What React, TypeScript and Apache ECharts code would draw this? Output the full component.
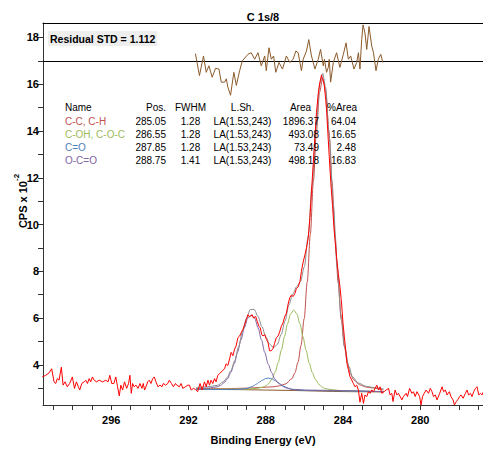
import React, { useEffect, useRef } from "react";
import * as echarts from "echarts";

const FONT = "'Liberation Sans', Arial, Helvetica, sans-serif";

const TITLE = "C 1s/8";
const RESIDUAL_LABEL = "Residual STD = 1.112";
const X_NAME = "Binding Energy (eV)";
const RESIDUAL_ZERO = 17;

const X_TICKS = [277, 278, 279, 280, 281, 282, 283, 284, 285, 286, 287, 288, 289, 290, 291, 292, 293, 294, 295, 296, 297, 298, 299];
const X_LABELS = [280, 284, 288, 292, 296];
const Y_TICKS = [3, 4, 5, 6, 7, 8, 9, 10, 11, 12, 13, 14, 15, 16, 17, 18];
const Y_LABELS = [4, 6, 8, 10, 12, 14, 16, 18];

// table
const TABLE_HEAD = ["Name", "Pos.", "FWHM", "L.Sh.", "Area", "%Area"];
const COMP_NAMES = ["C-C, C-H", "C-OH, C-O-C", "C=O", "O-C=O"];
const COMP_POS = ["285.05", "286.55", "287.85", "288.75"];
const COMP_FWHM = ["1.28", "1.28", "1.28", "1.41"];
const COMP_LSH = ["LA(1.53,243)", "LA(1.53,243)", "LA(1.53,243)", "LA(1.53,243)"];
const COMP_AREA = ["1896.37", "493.08", "73.49", "498.18"];
const COMP_PCT = ["64.04", "16.65", "2.48", "16.83"];
const COMP_COLORS = ["#c0504d", "#9bbb59", "#4f81bd", "#8064a2"];

// raw spectrum [binding energy, CPS x 10^-2]
const RAW: [number, number][] = [
  [299.57, 3.48], [299.39, 3.55], [299.22, 3.65], [299.08, 3.83], [298.96, 3.27], [298.87, 3.2], [298.79, 3.41], [298.7, 3.34], [298.58, 3.9], [298.49, 3.13],
  [298.39, 3.27], [298.27, 3.06], [298.15, 3.2], [298.01, 3.48], [297.9, 2.99], [297.8, 3.27], [297.7, 3.06], [297.63, 2.92], [297.52, 3.2], [297.4, 3.27],
  [297.32, 3.34], [297.23, 3.2], [297.14, 3.41], [297.06, 3.27], [296.97, 3.48], [296.88, 3.34], [296.76, 3.27], [296.62, 3.34], [296.45, 3.27], [296.28, 3.34],
  [296.16, 3.27], [296.07, 3.55], [295.97, 3.2], [295.86, 3.2], [295.76, 3.48], [295.67, 3.06], [295.58, 2.67], [295.5, 3.13], [295.41, 2.92], [295.31, 3.27],
  [295.2, 2.99], [295.1, 3.2], [295.03, 3.55], [294.96, 2.78], [294.89, 3.2], [294.81, 3.06], [294.72, 3.13], [294.61, 2.99], [294.51, 3.2], [294.41, 2.99],
  [294.34, 3.2], [294.27, 2.92], [294.2, 3.06], [294.11, 3.27], [294.03, 3.34], [293.94, 3.2], [293.85, 3.41], [293.77, 3.48], [293.68, 3.27], [293.58, 3.06],
  [293.47, 3.13], [293.37, 3.06], [293.3, 3.2], [293.19, 3.13], [293.07, 3.2], [292.99, 3.34], [292.88, 3.2], [292.78, 3.06], [292.67, 3.2], [292.61, 3.13],
  [292.47, 3.06], [292.38, 3.2], [292.29, 2.99], [292.16, 3.06], [292.03, 3.13], [291.95, 3.13], [291.86, 2.92], [291.74, 2.99], [291.64, 2.95], [291.52, 2.85],
  [291.4, 3.2], [291.29, 2.92], [291.17, 3.27], [291.08, 3.06], [290.99, 3.34], [290.91, 3.13], [290.83, 3.34], [290.74, 3.2], [290.65, 3.41], [290.57, 3.27],
  [290.48, 3.55], [290.39, 3.62], [290.31, 3.69], [290.22, 3.76], [290.13, 3.83], [290.05, 4.04], [289.96, 3.97], [289.87, 4.25], [289.79, 4.53], [289.7, 4.39],
  [289.61, 4.67], [289.53, 4.81], [289.44, 5.16], [289.35, 5.23], [289.27, 5.37], [289.18, 5.51], [289.09, 5.72], [289.01, 5.93], [288.92, 6.14], [288.87, 6.07],
  [288.8, 6.07], [288.7, 6.14], [288.63, 6.0], [288.52, 6.07], [288.44, 5.86], [288.35, 5.65], [288.28, 5.58], [288.21, 5.3], [288.14, 5.23], [288.05, 5.3],
  [287.97, 5.09], [287.88, 4.95], [287.8, 4.6], [287.71, 4.6], [287.62, 4.7], [287.54, 4.92], [287.45, 5.16], [287.36, 5.23], [287.28, 5.4], [287.19, 5.65],
  [287.1, 5.8], [287.02, 6.05], [286.93, 6.2], [286.84, 6.6], [286.75, 6.88], [286.67, 6.98], [286.58, 6.92], [286.49, 7.05], [286.41, 7.26], [286.32, 7.33],
  [286.23, 7.55], [286.15, 8.0], [286.06, 8.4], [285.97, 8.7], [285.89, 9.0], [285.8, 9.4], [285.71, 10.3], [285.63, 11.4], [285.54, 12.6], [285.45, 13.8],
  [285.37, 14.8], [285.28, 15.6], [285.19, 16.1], [285.11, 16.4], [285.05, 16.2], [284.97, 16.0], [284.89, 15.3], [284.85, 14.9], [284.78, 13.9], [284.71, 12.9],
  [284.63, 11.8], [284.54, 10.8], [284.47, 9.9], [284.42, 9.4], [284.33, 8.6], [284.24, 7.9], [284.15, 7.3], [284.07, 6.6], [284.0, 5.8], [283.93, 5.2],
  [283.84, 4.5], [283.78, 4.0], [283.72, 3.8], [283.64, 3.5], [283.55, 3.35], [283.46, 3.2], [283.38, 3.06], [283.29, 3.13], [283.2, 2.92], [283.12, 2.4],
  [283.03, 2.78], [282.94, 2.35], [282.86, 2.71], [282.77, 2.64], [282.68, 2.85], [282.6, 2.78], [282.51, 2.92], [282.42, 2.85], [282.25, 3.13], [282.16, 2.92],
  [282.08, 3.06], [281.99, 2.78], [281.87, 2.85], [281.77, 2.92], [281.64, 2.99], [281.56, 2.71], [281.47, 2.78], [281.41, 2.43], [281.3, 2.92], [281.21, 2.71],
  [281.13, 2.78], [280.95, 2.5], [280.87, 2.64], [280.73, 2.78], [280.66, 2.64], [280.55, 2.99], [280.43, 2.78], [280.35, 2.85], [280.26, 2.64], [280.17, 2.85],
  [280.03, 2.64], [279.96, 2.28], [279.88, 2.64], [279.79, 2.78], [279.69, 2.92], [279.57, 2.78], [279.48, 2.99], [279.39, 2.85], [279.31, 2.64], [279.22, 2.71],
  [279.13, 2.5], [278.99, 2.78], [278.87, 3.06], [278.79, 2.85], [278.7, 2.92], [278.61, 2.71], [278.49, 2.85], [278.41, 2.64], [278.3, 2.5], [278.23, 2.28],
  [278.13, 2.43], [278.06, 2.5], [277.96, 2.64], [277.89, 2.71], [277.78, 2.57], [277.66, 2.78], [277.58, 2.92], [277.49, 2.71], [277.4, 2.78], [277.32, 2.64],
  [277.23, 2.85], [277.14, 2.99], [277.06, 3.06], [276.97, 2.71], [276.88, 2.78], [276.8, 2.71], [276.73, 2.85],
];

const BACKGROUND: [number, number][] = [
  [291.6, 2.95], [289.5, 2.94], [288.0, 2.92], [286.5, 2.9], [285.5, 2.88], [284.5, 2.86], [283.5, 2.85], [281.9, 2.84],
];

const COMP_CC: [number, number][] = [
  [291.6, 2.98], [290.0, 2.98], [289.0, 3.0], [288.25, 3.03], [287.61, 3.06], [287.29, 3.1], [286.97, 3.18], [286.65, 3.4], [286.49, 3.65],
  [286.33, 4.1], [286.17, 4.83], [286.01, 5.96], [285.85, 7.54], [285.69, 9.58], [285.53, 11.86], [285.37, 14.03], [285.21, 15.67], [285.05, 16.27],
  [284.89, 15.66], [284.73, 14.02], [284.57, 11.84], [284.41, 9.56], [284.25, 7.52], [284.09, 5.94], [283.93, 4.8], [283.77, 4.07], [283.61, 3.61],
  [283.45, 3.36], [283.13, 3.14], [282.81, 3.05], [282.49, 3.01], [281.9, 2.92],
];

const COMP_COH: [number, number][] = [
  [291.6, 2.96], [289.75, 2.96], [289.11, 2.96], [288.79, 2.97], [288.47, 2.99], [288.15, 3.04], [287.99, 3.1], [287.83, 3.21], [287.67, 3.4],
  [287.51, 3.69], [287.35, 4.1], [287.19, 4.63], [287.03, 5.2], [286.87, 5.76], [286.71, 6.18], [286.55, 6.34], [286.39, 6.18], [286.23, 5.76],
  [286.07, 5.2], [285.91, 4.62], [285.75, 4.08], [285.59, 3.67], [285.43, 3.38], [285.27, 3.19], [285.11, 3.06], [284.95, 2.99], [284.63, 2.94],
  [284.31, 2.91], [283.99, 2.89], [283.35, 2.88], [281.9, 2.85],
];

const COMP_CO: [number, number][] = [
  [291.6, 2.95], [289.77, 2.94], [289.45, 2.94], [289.13, 2.97], [288.97, 2.99], [288.81, 3.04], [288.65, 3.09], [288.49, 3.17], [288.33, 3.26],
  [288.17, 3.34], [288.01, 3.41], [287.85, 3.43], [287.69, 3.4], [287.53, 3.33], [287.37, 3.25], [287.21, 3.16], [287.05, 3.08], [286.89, 3.02],
  [286.73, 2.97], [286.57, 2.94], [286.25, 2.91], [285.93, 2.9], [281.9, 2.85],
];

const COMP_OCO: [number, number][] = [
  [291.6, 2.99], [290.87, 3.01], [290.51, 3.06], [290.34, 3.12], [290.16, 3.23], [289.98, 3.4], [289.81, 3.67], [289.63, 4.04], [289.46, 4.53],
  [289.28, 5.07], [289.1, 5.6], [288.93, 5.99], [288.75, 6.13], [288.57, 5.99], [288.4, 5.6], [288.22, 5.07], [288.05, 4.53], [287.87, 4.03],
  [287.69, 3.66], [287.52, 3.38], [287.34, 3.21], [287.16, 3.1], [286.99, 3.02], [286.63, 2.95], [286.28, 2.94], [285.93, 2.92], [285.22, 2.91], [281.9, 2.85],
];

const ENVELOPE: [number, number][] = [
  [291.6, 3.03], [291.0, 3.06], [290.5, 3.12], [290.2, 3.27], [290.0, 3.45], [289.8, 3.75], [289.6, 4.19], [289.4, 4.78], [289.2, 5.44], [289.0, 5.98],
  [288.8, 6.36], [288.6, 6.37], [288.4, 6.08], [288.2, 5.64], [288.0, 5.21], [287.8, 4.89], [287.6, 4.73], [287.4, 4.87], [287.2, 5.29], [287.0, 5.88],
  [286.8, 6.55], [286.6, 7.03], [286.4, 7.34], [286.2, 7.56], [286.0, 8.19], [285.8, 9.51], [285.6, 11.66], [285.4, 14.1], [285.2, 16.03], [285.05, 16.47],
  [284.9, 15.87], [284.7, 13.69], [284.5, 10.86], [284.3, 8.16], [284.1, 6.13], [283.9, 4.71], [283.7, 3.94], [283.5, 3.47], [283.2, 3.22], [282.8, 3.08],
  [282.4, 3.02], [281.9, 2.97],
];

// residual, plotted around RESIDUAL_ZERO
const RESIDUAL: [number, number][] = [
  [291.64, 17.31], [291.43, 16.37], [291.22, 17.21], [291.08, 16.51], [290.94, 16.79], [290.77, 16.3], [290.6, 16.68], [290.42, 16.65], [290.3, 16.09],
  [290.13, 16.09], [290.04, 16.23], [289.96, 15.88], [289.82, 15.53], [289.65, 16.51], [289.52, 15.95], [289.35, 16.58], [289.21, 17.0], [288.92, 17.28],
  [288.75, 17.35], [288.57, 17.07], [288.4, 17.35], [288.23, 16.79], [288.05, 17.21], [287.97, 16.58], [287.83, 17.56], [287.71, 17.07], [287.59, 17.21],
  [287.48, 16.51], [287.31, 16.93], [287.13, 16.65], [286.93, 17.21], [286.75, 16.93], [286.58, 17.07], [286.44, 17.42], [286.32, 17.35], [286.15, 16.58],
  [286.06, 17.07], [285.89, 17.42], [285.77, 17.91], [285.63, 17.21], [285.45, 16.65], [285.28, 17.07], [285.16, 17.49], [285.02, 16.79], [284.96, 17.07],
  [284.85, 16.51], [284.76, 16.72], [284.71, 17.07], [284.64, 16.09], [284.5, 16.93], [284.33, 17.35], [284.16, 16.72], [283.98, 17.28], [283.84, 17.77],
  [283.72, 17.07], [283.6, 17.21], [283.43, 16.65], [283.29, 16.93], [283.2, 17.35], [283.12, 16.65], [283.03, 17.91], [282.96, 18.54], [282.86, 18.19],
  [282.77, 17.49], [282.65, 18.47], [282.51, 17.63], [282.42, 17.35], [282.29, 16.58], [282.17, 17.07], [282.04, 17.28], [281.94, 16.93],
];

const X_MIN = 276.75;
const X_MAX = 299.53;
const Y_MIN = 2.28;
const Y_MAX = 18.62;

function lineSeries(name: string, data: [number, number][], color: string, z: number, smooth: number | boolean) {
  return {
    type: "line",
    name,
    data,
    symbol: "none",
    showSymbol: false,
    smooth,
    smoothMonotone: "x",
    lineStyle: { color, width: 1 },
    itemStyle: { color },
    z,
    silent: true,
  };
}

export default function App() {
  const ref = useRef<HTMLDivElement | null>(null);

  useEffect(() => {
    if (!ref.current) return;
    const chart = echarts.init(ref.current, undefined, { renderer: "svg" });

    const tableRowsY = [121, 134.2, 147.4, 160.6];
    const headY = 107.5;
    const txt = (text: string, x: number, y: number, align: string, color = "#000") => ({
      type: "text",
      x,
      y,
      silent: true,
      style: { text, fill: color, font: `10px ${FONT}`, textAlign: align, textVerticalAlign: "middle" },
      z: 100,
    });

    const graphics: any[] = [
      {
        type: "text",
        x: 263,
        y: 17,
        style: { text: TITLE, fill: "#000", font: `bold 11px ${FONT}`, textAlign: "center", textVerticalAlign: "middle" },
      },
      {
        type: "text",
        x: 48,
        y: 38.5,
        z: 100,
        style: {
          text: RESIDUAL_LABEL,
          fill: "#000",
          font: `bold 10.5px ${FONT}`,
          textAlign: "left",
          textVerticalAlign: "middle",
          backgroundColor: "#eeeeee",
          padding: [2, 2, 2, 2],
        },
      },
      {
        type: "text",
        x: 20,
        y: 201,
        rotation: Math.PI / 2,
        style: {
          text: "{a|CPS x 10}{b|-2}",
          textAlign: "center",
          textVerticalAlign: "middle",
          rich: {
            a: { fontFamily: FONT, fontWeight: "bold", fontSize: 11, fill: "#000", lineHeight: 16, verticalAlign: "bottom" },
            b: { fontFamily: FONT, fontWeight: "bold", fontSize: 8, fill: "#000", lineHeight: 16, verticalAlign: "top" },
          },
        },
      },
      txt(TABLE_HEAD[0], 65, headY, "left"),
      txt(TABLE_HEAD[1], 166, headY, "right"),
      txt(TABLE_HEAD[2], 190.5, headY, "center"),
      txt(TABLE_HEAD[3], 242.5, headY, "center"),
      txt(TABLE_HEAD[4], 311, headY, "right"),
      txt(TABLE_HEAD[5], 357, headY, "right"),
    ];
    COMP_NAMES.forEach((n, i) => {
      const y = tableRowsY[i];
      graphics.push(txt(n, 65, y, "left", COMP_COLORS[i]));
      graphics.push(txt(COMP_POS[i], 166, y, "right"));
      graphics.push(txt(COMP_FWHM[i], 190.5, y, "center"));
      graphics.push(txt(COMP_LSH[i], 242.5, y, "center"));
      graphics.push(txt(COMP_AREA[i], 319, y, "right"));
      graphics.push(txt(COMP_PCT[i], 356, y, "right"));
    });

    const axisColor = "#333";
    const option: any = {
      animation: false,
      backgroundColor: "#ffffff",
      grid: { left: 43, right: 0, top: 23, bottom: 38, containLabel: false },
      xAxis: [
        {
          type: "value",
          inverse: true,
          min: X_MIN,
          max: X_MAX,
          position: "bottom",
          axisLine: { show: true, onZero: false, lineStyle: { color: axisColor, width: 1 } },
          axisTick: { show: true, length: 5, customValues: X_TICKS, lineStyle: { color: axisColor, width: 1 } },
          axisLabel: { customValues: X_LABELS, fontFamily: FONT, fontWeight: "bold", fontSize: 11, color: "#000", margin: 9 },
          splitLine: { show: false },
          name: X_NAME,
          nameLocation: "middle",
          nameGap: 29,
          nameTextStyle: { fontFamily: FONT, fontWeight: "bold", fontSize: 11, color: "#000" },
        },
        {
          type: "value",
          inverse: true,
          min: X_MIN,
          max: X_MAX,
          position: "top",
          axisLine: { show: true, onZero: false, lineStyle: { color: "#000", width: 1 } },
          axisTick: { show: false },
          axisLabel: { show: false },
          splitLine: { show: false },
        },
      ],
      yAxis: {
        type: "value",
        min: Y_MIN,
        max: Y_MAX,
        axisLine: { show: true, onZero: false, lineStyle: { color: axisColor, width: 1 } },
        axisTick: { show: true, length: 5, customValues: Y_TICKS, lineStyle: { color: axisColor, width: 1 } },
        axisLabel: { customValues: Y_LABELS, fontFamily: FONT, fontWeight: "bold", fontSize: 11, color: "#000", margin: 4 },
        splitLine: { show: false },
      },
      series: [
        lineSeries("Background", BACKGROUND, "#8b5a2b", 2, false),
        lineSeries(COMP_NAMES[0], COMP_CC, COMP_COLORS[0], 3, 0.3),
        lineSeries(COMP_NAMES[1], COMP_COH, COMP_COLORS[1], 3, 0.3),
        lineSeries(COMP_NAMES[2], COMP_CO, COMP_COLORS[2], 3, 0.3),
        lineSeries(COMP_NAMES[3], COMP_OCO, COMP_COLORS[3], 3, 0.3),
        lineSeries("Envelope", ENVELOPE, "#8c8c8c", 4, 0.3),
        lineSeries("Raw", RAW, "#ff0000", 5, false),
        {
          ...lineSeries("Residual", RESIDUAL, "#8b5a2b", 6, false),
          markLine: {
            silent: true,
            symbol: "none",
            label: { show: false },
            lineStyle: { color: "#000", width: 1, type: "solid" },
            data: [{ yAxis: RESIDUAL_ZERO }],
          },
        },
      ],
      graphic: graphics,
    };
    chart.setOption(option);
    return () => chart.dispose();
  }, []);

  return (
    <div
      ref={ref}
      style={{ position: "fixed", left: 0, top: 0, width: 483, height: 450, background: "#fff" }}
    />
  );
}
